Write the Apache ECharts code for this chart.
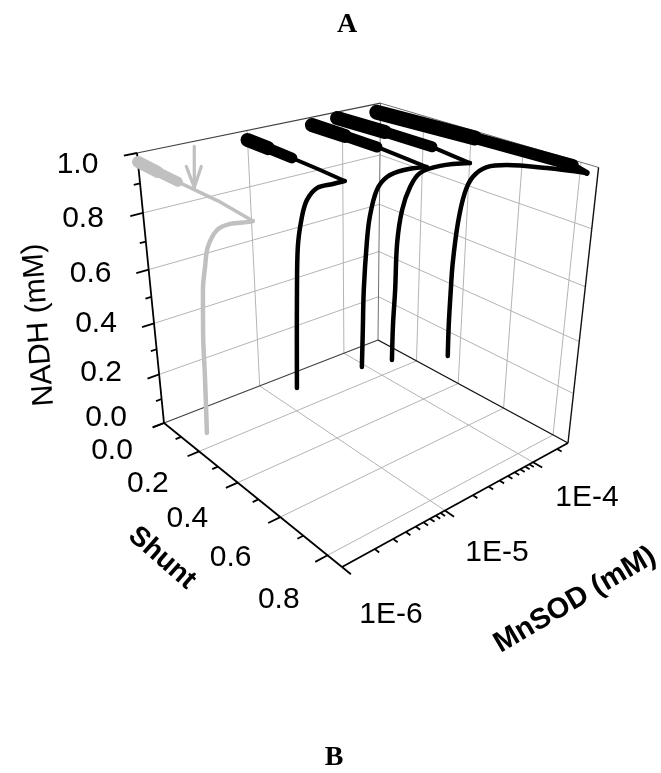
<!DOCTYPE html><html><head><meta charset="utf-8">
<style>html,body{margin:0;padding:0;background:#fff}#c{width:661px;height:773px}</style>
<script src="https://cdn.jsdelivr.net/npm/echarts@6/dist/echarts.min.js"></script></head><body><div id="c"></div>
<script>
// ---- data ----
var nadhTicks=[0,0.2,0.4,0.6,0.8,1.0];
var nadhTickLabels=['0.0','0.2','0.4','0.6','0.8','1.0'];
var shuntTicks=[0,0.2,0.4,0.6,0.8];
var shuntTickLabels=['0.0','0.2','0.4','0.6','0.8'];
var mnsodTicks=[1e-6,1e-5,1e-4];
var mnsodTickLabels=['1E-6','1E-5','1E-4'];
var mnsodLevels=[1e-6,1e-5,4.6e-5,8.7e-5,2.5e-4];
var shunt0=[0.001,0.106,0.206,0.401,0.539,0.514,0.440,0.379,0.330,0.309,0.290,0.274,0.266,0.253];
var nadh0 =[0.971,0.969,0.968,0.968,0.958,0.946,0.915,0.875,0.804,0.731,0.647,0.490,0.327,0.106];
var shunt1=[0.000,0.101,0.214,0.330,0.443,0.393,0.324,0.278,0.253,0.230,0.220,0.212,0.205];
var nadh1 =[0.967,0.966,0.964,0.961,0.956,0.931,0.896,0.841,0.774,0.659,0.496,0.299,0.099];
var shunt2=[0.000,0.157,0.300,0.404,0.504,0.410,0.344,0.301,0.271,0.258,0.245,0.241,0.237];
var nadh2 =[0.972,0.973,0.973,0.968,0.963,0.925,0.882,0.823,0.716,0.614,0.427,0.263,0.105];
var shunt3=[0.000,0.223,0.421,0.497,0.569,0.456,0.376,0.336,0.304,0.285,0.280,0.273,0.271];
var nadh3 =[0.978,0.984,0.985,0.978,0.972,0.930,0.882,0.820,0.726,0.595,0.408,0.262,0.112];
var shunt4=[0.000,0.430,0.786,0.833,0.701,0.558,0.483,0.430,0.401,0.379,0.365,0.362,0.360,0.362];
var nadh4 =[0.969,0.983,0.991,0.979,0.956,0.925,0.896,0.845,0.777,0.657,0.497,0.387,0.240,0.108];
var thickEnd=[2,2,2,2,2];      // last point of the heavy part of each curve
var peakAt=[4,4,4,4,3];        // point where each curve turns back

// ---- 3-D view (perspective camera) ----
var S_MAX=0.857, DECADES=2.442, LOG_MIN=-6;
function proj(u,v,n){
  var D=1+0.16606*u-0.19271*v-0.123*n;
  return [(164+276.77*u+112.09*v-43.85*n)/D,(423-26.54*u+34.73*v-288.82*n)/D];
}
function uOf(m){return (Math.log10(m)-LOG_MIN)/DECADES;}
function vOf(s){return s/S_MAX;}
function P(m,s,n){return proj(uOf(m),vOf(s),n);}

var series=[];
function lines(segs,color,width,z){
  series.push({type:'lines',coordinateSystem:'cartesian2d',polyline:false,silent:true,z:z||1,animation:false,
    lineStyle:{color:color,width:width,opacity:1,curveness:0},
    data:segs.map(function(s){return {coords:s};})});
}
// grid lines
var grid=[];
[0.2,0.4,0.6,0.8].forEach(function(n){
  grid.push([proj(0,0,n),proj(1,0,n)]);grid.push([proj(1,0,n),proj(1,1,n)]);
});
shuntTicks.slice(1).forEach(function(s){
  var v=vOf(s);grid.push([proj(0,v,0),proj(1,v,0)]);grid.push([proj(1,v,0),proj(1,v,1)]);
});
mnsodTicks.slice(1).forEach(function(m){
  var u=uOf(m);grid.push([proj(u,0,0),proj(u,1,0)]);grid.push([proj(u,0,0),proj(u,0,1)]);
});
lines(grid,'#b4b4b4',1,1);
// frame
lines([[proj(1,0,0),proj(1,0,1)],[proj(1,0,1),proj(1,1,1)]],'#707070',1,2);
lines([[proj(0,0,1),proj(1,0,1)],[proj(0,0,0),proj(1,0,0)]],'#404040',1.2,2);
lines([[proj(1,1,1),proj(1,1,0)],[proj(1,0,0),proj(1,1,0)]],'#111',1.4,2);
// axes and ticks
var ax=[[proj(0,0,0),proj(0,0,1)],[proj(0,0,0),proj(0,1,0)],[proj(0,1,0),proj(1,1,0)]];
for(var i=0;i<=10;i++){var n=i/10;ax.push([proj(0,0,n),proj(i%2?-0.022:-0.045,0,n)]);}
for(i=0;i<=8;i++){var s=i/10,v=vOf(s);ax.push([proj(0,v,0),proj(i%2?-0.022:-0.045,v,0)]);}
var pw=[];for(var d=-6;d<=-4;d++)for(var k=1;k<10;k++){var m=k*Math.pow(10,d);if(uOf(m)<=1.0001)pw.push([m,k]);}
pw.forEach(function(p){var u=uOf(p[0]);ax.push([proj(u,1,0),proj(u,p[1]===1?1.04:1.02,0)]);});
lines(ax,'#000',1.8,3);

// curves
var shunts=[shunt0,shunt1,shunt2,shunt3,shunt4], nadhs=[nadh0,nadh1,nadh2,nadh3,nadh4];
var heavy=[[12,10],[14,11],[14,11],[14,11],[15,12]];
function curve(pts,color,w,z,smooth){
  series.push({type:'line',data:pts,showSymbol:false,symbol:'none',silent:true,animation:false,z:z,smooth:smooth||false,
    lineStyle:{color:color,width:w,cap:'round',join:'round'}});
}
mnsodLevels.forEach(function(m,c){
  var col=c===0?'#c0c0c0':'#000', z=10+c, S=shunts[c], N=nadhs[c];
  function pt(i){return P(m,S[i],N[i]);}
  var a=[],b=[],t=[],dn=[];
  for(var i=0;i<=1;i++)a.push(pt(i));
  for(i=1;i<=thickEnd[c];i++)b.push(pt(i));
  for(i=thickEnd[c];i<=peakAt[c];i++)t.push(pt(i));
  for(i=peakAt[c];i<S.length;i++)dn.push(pt(i));
  curve(dn,col,c===0?4.5:4.5,z,0.35);
  curve(t,col,c===0?3.5:(c===4?6:4),z);
  curve(b,col,heavy[c][1],z);
  curve(a,col,heavy[c][0],z);
});
// arrow pointing at the gray curve
var tip=P(1e-6,0.285,0.975);
var arrowPath=[[0,-41],[0,0]], arrowHead=[[-8,-21],[0,0],[7,-21]];
function off(o){return [tip[0]+o[0],tip[1]+o[1]];}
curve(arrowPath.map(off),'#c0c0c0',3.2,20);
curve(arrowHead.map(off),'#c0c0c0',3.2,20);

// tick labels
function labels(items,font,weight){
  series.push({type:'scatter',symbolSize:0,silent:true,animation:false,z:30,itemStyle:{opacity:1},
    data:items.map(function(t){return {value:t.p,itemStyle:{opacity:1},label:{show:true,formatter:t.t,position:'inside',offset:t.o,rotate:t.r||0,opacity:1,
      fontFamily:'Liberation Sans, Arial',fontSize:font,fontWeight:weight,color:'#000',align:'center',verticalAlign:'middle'}};})});
}
var nDx=[0,0,0,0,-2,-1.5], nDy=[3,2,0,0,-2,0];
labels(nadhTicks.map(function(n,i){return {p:proj(0,0,n),t:nadhTickLabels[i],o:[-58+nDx[i],-8+20*n+nDy[i]]};}),30,'normal');
labels(shuntTicks.map(function(s,i){return {p:proj(0,vOf(s),0),t:shuntTickLabels[i],o:[-52+4*s,28+21*s]};}),30,'normal');
var mOff=[[49,48],[52,42],[54,36]];
labels(mnsodTicks.map(function(m,i){return {p:proj(uOf(m),1,0),t:mnsodTickLabels[i],o:mOff[i]};}),30,'normal');

var opt={animation:false,backgroundColor:'#fff',
  grid:{left:0,right:0,top:0,bottom:0},
  xAxis:{type:'value',min:0,max:661,show:false},
  yAxis:{type:'value',min:0,max:773,inverse:true,show:false},
  tooltip:{show:false},
  graphic:[
   {type:'text',x:347,y:25,style:{text:'A',x:0,y:0,align:'center',verticalAlign:'middle',font:'bold 28px "Liberation Serif"',fill:'#000'}},
   {type:'text',x:334,y:758,style:{text:'B',x:0,y:0,align:'center',verticalAlign:'middle',font:'bold 28px "Liberation Serif"',fill:'#000'}},
   {type:'text',x:39,y:325,rotation:Math.PI/2+0.07,style:{text:'NADH (mM)',x:0,y:0,align:'center',verticalAlign:'middle',font:'30px "Liberation Sans"',fill:'#000'}},
   {type:'text',x:162,y:558,rotation:-0.72,style:{text:'Shunt',x:0,y:0,align:'center',verticalAlign:'middle',font:'bold 28px "Liberation Sans"',fill:'#000'}},
   {type:'text',x:575,y:600,rotation:0.53,style:{text:'MnSOD (mM)',x:0,y:0,align:'center',verticalAlign:'middle',font:'bold 29px "Liberation Sans"',fill:'#000'}}
  ],
  series:series};
echarts.init(document.getElementById('c'),null,{renderer:'canvas'}).setOption(opt);
</script></body></html>
